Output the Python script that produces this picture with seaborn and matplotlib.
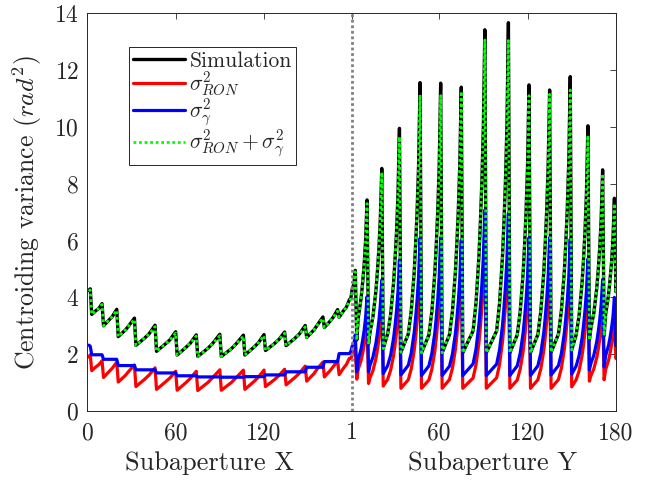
import numpy as np
import pandas as pd
import matplotlib
matplotlib.use("Agg")
import matplotlib.pyplot as plt
import seaborn as sns

# subaperture index (x slopes 1-180, y slopes 181-360), vertices
subap = [
    # X half
    1, 2,
    3, 6, 8, 10,
    11, 15, 17, 20,
    21, 26, 28, 32,
    33, 39, 42, 46,
    47, 53, 56, 60,
    61, 67, 70, 74,
    75, 82, 85, 90,
    91, 98, 101, 106,
    107, 113, 116, 120,
    121, 127, 130, 134,
    135, 141, 144, 148,
    149, 154, 156, 160,
    161, 165, 167, 170,
    171, 174, 176, 178,
    179, 180,
    # Y half
    181, 182,
    183, 184, 186, 187, 188, 189, 190,
    191, 192, 194, 196, 197, 198, 199, 200,
    201, 204, 206, 208, 209, 210, 211, 212,
    213, 218, 220, 222, 223, 224, 225, 226,
    227, 232, 234, 236, 237, 238, 239, 240,
    241, 246, 248, 250, 251, 252, 253, 254,
    255, 262, 264, 266, 267, 268, 269, 270,
    271, 278, 280, 282, 283, 284, 285, 286,
    287, 292, 294, 296, 297, 298, 299, 300,
    301, 306, 308, 310, 311, 312, 313, 314,
    315, 320, 322, 324, 325, 326, 327, 328,
    329, 332, 334, 336, 337, 338, 339, 340,
    341, 342, 344, 346, 347, 348, 349, 350,
    351, 352, 354, 355, 356, 357, 358,
    359, 360,
]

simulation = [
    4.25, 4.30,
    3.40, 3.54, 3.62, 3.78,
    3.00, 3.22, 3.33, 3.58,
    2.62, 2.86, 2.99, 3.27,
    2.31, 2.57, 2.72, 3.02,
    2.10, 2.36, 2.50, 2.79,
    1.97, 2.24, 2.39, 2.68,
    1.92, 2.21, 2.37, 2.70,
    1.92, 2.20, 2.36, 2.67,
    1.97, 2.24, 2.39, 2.69,
    2.13, 2.37, 2.51, 2.78,
    2.30, 2.56, 2.71, 3.01,
    2.59, 2.86, 3.01, 3.31,
    2.94, 3.17, 3.30, 3.57,
    3.30, 3.53, 3.66, 3.92,
    3.97, 4.32,
    4.45, 4.95,
    2.50, 3.27, 3.99, 4.52, 5.14, 6.00, 7.43,
    2.35, 2.78, 3.32, 4.22, 4.89, 5.68, 6.76, 8.54,
    2.20, 2.72, 3.39, 4.51, 5.33, 6.30, 7.62, 9.95,
    2.07, 2.71, 3.52, 4.88, 5.88, 7.06, 8.66, 11.56,
    2.05, 2.68, 3.50, 4.85, 5.85, 7.03, 8.63, 11.54,
    2.05, 2.69, 3.52, 4.90, 5.91, 7.11, 8.72, 11.40,
    2.05, 2.82, 3.81, 5.47, 6.68, 8.11, 10.05, 13.42,
    2.05, 2.82, 3.80, 5.46, 6.67, 8.09, 10.06, 13.67,
    2.05, 2.68, 3.50, 4.85, 5.85, 7.03, 8.63, 11.48,
    2.05, 2.69, 3.51, 4.87, 5.88, 7.06, 8.64, 11.30,
    2.07, 2.71, 3.54, 4.93, 5.95, 7.15, 8.80, 11.77,
    2.15, 2.68, 3.36, 4.50, 5.32, 6.31, 7.65, 10.04,
    2.50, 2.91, 3.44, 4.32, 4.96, 5.72, 6.76, 8.49,
    2.65, 3.39, 4.09, 4.60, 5.21, 6.04, 7.49,
    4.20, 4.75,
]

sigma_ron = [
    1.90, 1.98,
    1.42, 1.56, 1.64, 1.77,
    1.18, 1.40, 1.51, 1.72,
    1.02, 1.26, 1.39, 1.62,
    0.86, 1.12, 1.27, 1.52,
    0.76, 1.02, 1.16, 1.40,
    0.73, 1.00, 1.15, 1.40,
    0.72, 1.01, 1.17, 1.45,
    0.73, 1.01, 1.17, 1.44,
    0.76, 1.03, 1.18, 1.44,
    0.86, 1.10, 1.24, 1.47,
    0.92, 1.18, 1.33, 1.58,
    1.05, 1.32, 1.47, 1.72,
    1.20, 1.43, 1.56, 1.78,
    1.28, 1.51, 1.64, 1.86,
    1.85, 1.97,
    2.05, 2.22,
    1.12, 1.47, 1.79, 2.03, 2.31, 2.68, 3.28,
    0.97, 1.17, 1.42, 1.84, 2.15, 2.52, 3.00, 3.79,
    0.88, 1.12, 1.43, 1.95, 2.33, 2.78, 3.36, 4.33,
    0.80, 1.10, 1.48, 2.12, 2.59, 3.14, 3.86, 5.05,
    0.80, 1.09, 1.47, 2.10, 2.56, 3.11, 3.82, 5.00,
    0.80, 1.11, 1.51, 2.17, 2.66, 3.24, 3.99, 5.23,
    0.80, 1.16, 1.63, 2.41, 2.98, 3.65, 4.53, 5.98,
    0.80, 1.17, 1.64, 2.44, 3.02, 3.70, 4.60, 6.08,
    0.80, 1.09, 1.47, 2.10, 2.56, 3.11, 3.82, 5.00,
    0.80, 1.10, 1.48, 2.12, 2.59, 3.14, 3.86, 5.05,
    0.80, 1.11, 1.51, 2.18, 2.67, 3.25, 4.00, 5.25,
    0.85, 1.10, 1.41, 1.94, 2.32, 2.78, 3.37, 4.35,
    1.05, 1.24, 1.48, 1.88, 2.17, 2.52, 2.97, 3.72,
    1.10, 1.45, 1.78, 2.02, 2.31, 2.68, 3.30,
    1.85, 2.03,
]

sigma_gamma = [
    2.32, 2.28,
    1.98, 1.98, 1.98, 1.98,
    1.82, 1.82, 1.82, 1.82,
    1.60, 1.60, 1.60, 1.60,
    1.45, 1.45, 1.45, 1.45,
    1.34, 1.34, 1.34, 1.34,
    1.24, 1.24, 1.24, 1.24,
    1.20, 1.20, 1.20, 1.20,
    1.19, 1.19, 1.19, 1.19,
    1.21, 1.21, 1.21, 1.21,
    1.27, 1.27, 1.27, 1.27,
    1.38, 1.38, 1.38, 1.38,
    1.54, 1.54, 1.54, 1.54,
    1.74, 1.74, 1.74, 1.74,
    2.02, 2.02, 2.02, 2.02,
    2.10, 2.30,
    2.35, 2.68,
    1.38, 1.80, 2.20, 2.49, 2.83, 3.28, 4.02,
    1.38, 1.61, 1.90, 2.38, 2.74, 3.16, 3.71, 4.61,
    1.32, 1.60, 1.96, 2.56, 3.00, 3.52, 4.20, 5.32,
    1.27, 1.61, 2.04, 2.76, 3.29, 3.92, 4.73, 6.08,
    1.25, 1.59, 2.03, 2.75, 3.29, 3.92, 4.74, 6.10,
    1.25, 1.58, 2.01, 2.73, 3.25, 3.87, 4.68, 6.02,
    1.25, 1.66, 2.18, 3.06, 3.70, 4.46, 5.45, 7.08,
    1.25, 1.65, 2.16, 3.02, 3.65, 4.39, 5.36, 6.96,
    1.25, 1.59, 2.03, 2.75, 3.29, 3.92, 4.74, 6.10,
    1.25, 1.59, 2.03, 2.75, 3.29, 3.92, 4.74, 6.10,
    1.27, 1.60, 2.03, 2.75, 3.28, 3.90, 4.71, 6.05,
    1.30, 1.58, 1.95, 2.56, 3.00, 3.53, 4.22, 5.35,
    1.45, 1.67, 1.96, 2.44, 2.79, 3.20, 3.74, 4.63,
    1.55, 1.94, 2.31, 2.58, 2.90, 3.31, 4.00,
    2.30, 2.62,
]

sigma_sum = [
    4.22, 4.26,
    3.40, 3.54, 3.62, 3.75,
    3.00, 3.22, 3.33, 3.54,
    2.62, 2.86, 2.99, 3.22,
    2.31, 2.57, 2.72, 2.97,
    2.10, 2.36, 2.50, 2.74,
    1.97, 2.24, 2.39, 2.64,
    1.92, 2.21, 2.37, 2.65,
    1.92, 2.20, 2.36, 2.63,
    1.97, 2.24, 2.39, 2.65,
    2.13, 2.37, 2.51, 2.74,
    2.30, 2.56, 2.71, 2.96,
    2.59, 2.86, 3.01, 3.26,
    2.94, 3.17, 3.30, 3.52,
    3.30, 3.53, 3.66, 3.88,
    3.95, 4.27,
    4.40, 4.90,
    2.50, 3.27, 3.99, 4.52, 5.14, 5.96, 7.30,
    2.35, 2.78, 3.32, 4.22, 4.89, 5.68, 6.71, 8.40,
    2.20, 2.72, 3.39, 4.51, 5.33, 6.30, 7.56, 9.65,
    2.07, 2.71, 3.52, 4.88, 5.88, 7.06, 8.59, 11.13,
    2.05, 2.68, 3.50, 4.85, 5.85, 7.03, 8.56, 11.10,
    2.05, 2.69, 3.52, 4.90, 5.91, 7.11, 8.67, 11.25,
    2.05, 2.82, 3.81, 5.47, 6.68, 8.11, 9.98, 13.06,
    2.05, 2.82, 3.80, 5.46, 6.67, 8.09, 9.96, 13.04,
    2.05, 2.68, 3.50, 4.85, 5.85, 7.03, 8.56, 11.10,
    2.05, 2.69, 3.51, 4.87, 5.88, 7.06, 8.60, 11.15,
    2.07, 2.71, 3.54, 4.93, 5.95, 7.15, 8.71, 11.30,
    2.15, 2.68, 3.36, 4.50, 5.32, 6.31, 7.59, 9.70,
    2.50, 2.91, 3.44, 4.32, 4.96, 5.72, 6.71, 8.35,
    2.65, 3.39, 4.09, 4.60, 5.21, 5.99, 7.30,
    4.15, 4.65,
]

tick_pos = [0, 60, 120, 180, 239, 299, 359]
tick_labels = ["0", "60", "120", "1", "60", "120", "180"]

df = pd.DataFrame({
    "subap": subap,
    "sim": simulation,
    "ron": sigma_ron,
    "gamma": sigma_gamma,
    "sum": sigma_sum,
})

sns.set_style("white")
plt.rcParams["font.family"] = "serif"
plt.rcParams["font.serif"] = ["cmr10"]
plt.rcParams["mathtext.fontset"] = "cm"
plt.rcParams["axes.formatter.use_mathtext"] = True

fig = plt.figure(figsize=(6.58, 4.86), dpi=100)
ax = fig.add_axes([0.1327, 0.1543, 0.8033, 0.8183])

sns.lineplot(data=df, x="subap", y="sim", sort=False, estimator=None, ax=ax,
             color="black", linewidth=2.4, label="Simulation")
sns.lineplot(data=df, x="subap", y="ron", sort=False, estimator=None, ax=ax,
             color="#ff0000", linewidth=2.3, label=r"$\sigma^2_{RON}$")
sns.lineplot(data=df, x="subap", y="gamma", sort=False, estimator=None, ax=ax,
             color="#0000ff", linewidth=2.3, label=r"$\sigma^2_{\gamma}$")
sns.lineplot(data=df, x="subap", y="sum", sort=False, estimator=None, ax=ax,
             color="#00ff00", linewidth=2.0, linestyle=(0, (1, 1)),
             label=r"$\sigma^2_{RON}+\sigma^2_{\gamma}$")

ax.axvline(180, color="#808080", linestyle=(0, (1, 1)), linewidth=2.0)

ax.set_xlim(0, 359)
ax.set_ylim(0, 14)
ax.set_xticks(tick_pos)
ax.set_xticklabels(tick_labels)
ax.set_yticks(range(0, 15, 2))
ax.tick_params(direction="in", length=4, width=0.6, top=True, right=True,
               labelsize=17, colors="#262626")
ax.tick_params(axis="x", pad=8)
ax.tick_params(axis="y", pad=6)
for s in ax.spines.values():
    s.set_color("#262626")
    s.set_linewidth(0.7)

ax.set_xlabel("")
ax.set_ylabel(r"Centroiding variance ($rad^2$)", fontsize=18.5, color="#262626",
              labelpad=7)
fig.text(0.318, 0.033, "Subaperture X", fontsize=19, ha="center", va="baseline",
         color="#262626")
fig.text(0.749, 0.033, "Subaperture Y", fontsize=19, ha="center", va="baseline",
         color="#262626")

leg = ax.legend(loc="upper left", bbox_to_anchor=(0.079, 0.916), borderaxespad=0,
                fontsize=15.5, frameon=True, fancybox=False, framealpha=1,
                edgecolor="#262626", handlelength=2.4, handletextpad=0.2,
                labelspacing=-0.05, borderpad=0.2)
leg.get_frame().set_linewidth(0.7)

fig.savefig("out.png", dpi=100)
